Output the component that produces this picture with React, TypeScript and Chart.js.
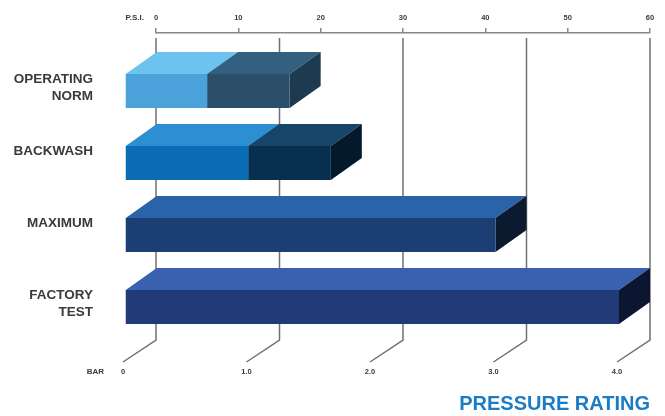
import React, { useEffect, useRef } from 'react';
import { Chart, registerables } from 'chart.js';

Chart.register(...registerables);

// ---- data ----
const categories: string[][] = [['OPERATING', 'NORM'], ['BACKWASH'], ['MAXIMUM'], ['FACTORY', 'TEST']];
const baseValues: number[] = [10, 15, 45, 60]; // psi
const extraValues: number[] = [10, 10, 0, 0]; // psi, stacked on base
const psiRange = { min: 0, max: 60, step: 10 };
const barRange = { min: 0, max: 4, step: 1 };
const barTickLabels: string[] = ['0', '1.0', '2.0', '3.0', '4.0'];
const psiAxisLabel = 'P.S.I.';
const barAxisLabel = 'BAR';
const titleText = 'PRESSURE RATING';

// ---- styles ----
const baseFront = ['#4ba1da', '#0b6db3', '#1b3f74', '#213a78'];
const baseTop = ['#6dc3ef', '#2b8fd2', '#2a63a9', '#3a61af'];
const baseSide = ['#2c6f9a', '#06416e', '#0b1a2e', '#0c1631'];
const extraFront = ['#2b4f6b', '#082f4f', '#1b3f74', '#213a78'];
const extraTop = ['#33607f', '#164569', '#2a63a9', '#3a61af'];
const extraSide = ['#1d3a51', '#04192b', '#0b1a2e', '#0c1631'];

const FONT = "'Liberation Sans', Arial, Helvetica, sans-serif";
const DX = 31;
const DY = 22;
const GRID = '#707070';
const TEXT = '#3a3a3a';
const PSI_TICK_LEN = 5;
const PSI_PAD = 6;
const SMALL_FONT = 7.5;
const BAR_PAD = 46;
const BAR_LABEL_OFFSET = -33;

const zeroPad = (s: any) => {
  s.paddingLeft = 0;
  s.paddingRight = 0;
  s.paddingTop = 0;
  s.paddingBottom = 0;
};

const bar3d = {
  id: 'bar3d',
  beforeDatasetsDraw(chart: any) {
    const ctx = chart.ctx;
    const area = chart.chartArea;
    const s = chart.scales.xBar;
    ctx.save();
    ctx.strokeStyle = GRID;
    ctx.lineWidth = 1.5;
    s.ticks.forEach((t: any) => {
      const x = s.getPixelForValue(t.value);
      ctx.beginPath();
      ctx.moveTo(x, area.top + 5);
      ctx.lineTo(x, area.bottom + 19);
      ctx.lineTo(x + BAR_LABEL_OFFSET, area.bottom + 41);
      ctx.stroke();
    });
    ctx.restore();
  },
  beforeDatasetDraw() {
    return false;
  },
  afterDatasetsDraw(chart: any) {
    const ctx = chart.ctx;
    const n = chart.data.labels.length;
    const poly = (pts: number[][]) => {
      ctx.beginPath();
      ctx.moveTo(pts[0][0], pts[0][1]);
      for (let k = 1; k < pts.length; k++) ctx.lineTo(pts[k][0], pts[k][1]);
      ctx.closePath();
      ctx.fill();
    };
    ctx.save();
    for (let i = 0; i < n; i++) {
      chart.data.datasets.forEach((ds: any, di: number) => {
        const v = ds.data[i];
        if (!v) return;
        const el = chart.getDatasetMeta(di).data[i];
        if (!el) return;
        const { x, y, base, height } = el.getProps(['x', 'y', 'base', 'height'], true);
        const l = Math.min(x, base);
        const r = Math.max(x, base);
        const t = y - height / 2;
        const b = y + height / 2;
        ctx.fillStyle = ds.topColors[i];
        poly([[l - DX, t + DY], [l, t], [r, t], [r - DX, t + DY]]);
        ctx.fillStyle = ds.sideColors[i];
        poly([[r - DX, t + DY], [r, t], [r, b], [r - DX, b + DY]]);
        ctx.fillStyle = ds.frontColors[i];
        ctx.fillRect(l - DX, t + DY, r - l, height);
      });
    }
    ctx.restore();
  },
  afterDraw(chart: any) {
    const ctx = chart.ctx;
    const xs = chart.scales.x;
    const xb = chart.scales.xBar;
    ctx.save();
    ctx.fillStyle = TEXT;
    ctx.font = `bold 8px ${FONT}`;
    ctx.textAlign = 'right';
    ctx.textBaseline = 'middle';
    const py = xs.bottom - PSI_TICK_LEN - PSI_PAD - (SMALL_FONT * 1.2) / 2;
    ctx.fillText(psiAxisLabel, xs.getPixelForValue(psiRange.min) - 12, py);
    const by = xb.top + BAR_PAD + (SMALL_FONT * 1.2) / 2;
    ctx.fillText(barAxisLabel, xb.getPixelForValue(barRange.min) + BAR_LABEL_OFFSET - 19, by);
    ctx.restore();
  },
};

export default function App() {
  const ref = useRef<HTMLCanvasElement | null>(null);
  useEffect(() => {
    if (!ref.current) return;
    Chart.defaults.font.family = FONT;
    const chart = new Chart(ref.current, {
      type: 'bar',
      data: {
        labels: categories as any,
        datasets: [
          {
            label: 'base',
            data: baseValues,
            backgroundColor: baseFront,
            frontColors: baseFront,
            topColors: baseTop,
            sideColors: baseSide,
            barThickness: 34,
            xAxisID: 'x',
            yAxisID: 'y',
          } as any,
          {
            label: 'extra',
            data: extraValues,
            backgroundColor: extraFront,
            frontColors: extraFront,
            topColors: extraTop,
            sideColors: extraSide,
            barThickness: 34,
            xAxisID: 'x',
            yAxisID: 'y',
          } as any,
        ],
      },
      options: {
        indexAxis: 'y',
        animation: false,
        responsive: false,
        layout: { padding: { left: 0, right: 15, top: 0, bottom: 0 } },
        plugins: {
          legend: { display: false },
          tooltip: { enabled: false },
          title: {
            display: true,
            text: titleText,
            position: 'bottom',
            align: 'end',
            color: '#1b7cc6',
            font: { size: 20, weight: 'bold', family: FONT, lineHeight: 1.2 },
            padding: { top: 0, bottom: 0 },
          },
        },
        scales: {
          x: {
            type: 'linear',
            position: 'top',
            stacked: true,
            min: psiRange.min,
            max: psiRange.max,
            ticks: {
              stepSize: psiRange.step,
              padding: PSI_PAD,
              color: TEXT,
              font: { size: SMALL_FONT, weight: 'bold', family: FONT },
              maxRotation: 0,
            },
            grid: {
              display: true,
              drawOnChartArea: false,
              drawTicks: true,
              tickLength: PSI_TICK_LEN,
              color: '#888888',
              lineWidth: 1.5,
            },
            border: { display: true, color: '#888888', width: 1.5 },
            afterFit: (s: any) => {
              s.height = 33;
              zeroPad(s);
            },
          },
          xBar: {
            type: 'linear',
            axis: 'x',
            position: 'bottom',
            min: barRange.min,
            max: barRange.max,
            ticks: {
              stepSize: barRange.step,
              padding: BAR_PAD,
              labelOffset: BAR_LABEL_OFFSET,
              color: TEXT,
              font: { size: SMALL_FONT, weight: 'bold', family: FONT },
              maxRotation: 0,
              callback: (_v: any, i: number) => barTickLabels[i],
            },
            grid: { display: false, drawTicks: false },
            border: { display: false },
            afterFit: (s: any) => {
              s.height = 71;
              zeroPad(s);
            },
          } as any,
          y: {
            type: 'category',
            stacked: true,
            ticks: {
              padding: 63,
              labelOffset: 18.5,
              color: TEXT,
              font: { size: 13.5, weight: 'bold', family: FONT, lineHeight: 1.25 },
              callback: (_v: any, i: number) => {
                const l = categories[i];
                return l.length < 2 ? [...l, ''] : l;
              },
            },
            grid: { display: false, drawTicks: false },
            border: { display: false },
            afterFit: (s: any) => {
              s.width = 156;
              zeroPad(s);
            },
          },
        },
      } as any,
      plugins: [bar3d],
    });
    return () => chart.destroy();
  }, []);
  return (
    <div style={{ position: 'absolute', left: 0, top: 0, width: 665, height: 416, background: '#ffffff' }}>
      <canvas ref={ref} width={665} height={416} style={{ display: 'block' }} />
    </div>
  );
}
